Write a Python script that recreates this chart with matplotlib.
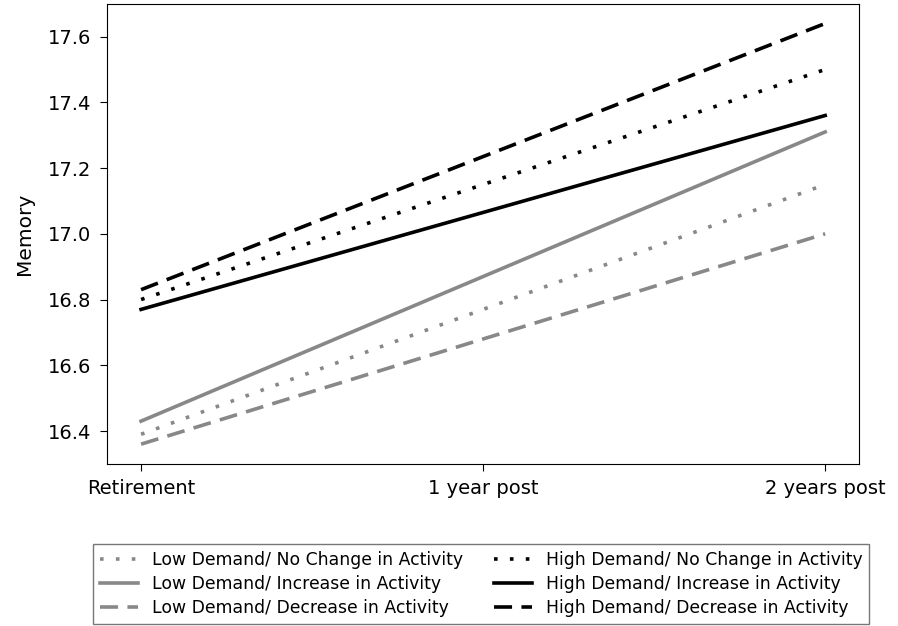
import matplotlib.pyplot as plt

timepoints = ["Retirement", "1 year post", "2 years post"]

# memory scores per group at each timepoint
low_no_change = [16.39, 16.77, 17.15]
low_increase = [16.43, 16.87, 17.31]
low_decrease = [16.36, 16.68, 17.00]
high_no_change = [16.80, 17.15, 17.50]
high_increase = [16.77, 17.065, 17.36]
high_decrease = [16.83, 17.235, 17.64]

grey = "#888888"
dotted = (0, (1, 3.4))
dashed = (0, (5, 2.6))
series = [
    ("Low Demand/ No Change in Activity", low_no_change, grey, dotted),
    ("Low Demand/ Increase in Activity", low_increase, grey, "-"),
    ("Low Demand/ Decrease in Activity", low_decrease, grey, dashed),
    ("High Demand/ No Change in Activity", high_no_change, "black", dotted),
    ("High Demand/ Increase in Activity", high_increase, "black", "-"),
    ("High Demand/ Decrease in Activity", high_decrease, "black", dashed),
]

fig = plt.figure(figsize=(8.98, 6.26), dpi=100)
ax = fig.add_axes([0.119, 0.259, 0.838, 0.735])

x = list(range(len(timepoints)))
for label, vals, color, ls in series:
    ax.plot(x, vals, color=color, linestyle=ls, linewidth=2.6, label=label)

ax.set_xticks(x)
ax.set_xticklabels(timepoints)
ax.set_xlim(-0.1, 2.1)
ax.set_ylim(16.3, 17.7)
ax.set_yticks([16.4, 16.6, 16.8, 17.0, 17.2, 17.4, 17.6])
ax.tick_params(labelsize=14, length=5, pad=6)
ax.set_ylabel("Memory", fontsize=14.5, labelpad=10)

fig.legend(loc="lower center", bbox_to_anchor=(0.536, 0.0), ncol=2,
           fontsize=12.4, fancybox=False, edgecolor="#555555",
           columnspacing=1.8, handlelength=2.2, borderpad=0.4,
           labelspacing=0.35, borderaxespad=0.1)

fig.savefig("out.png", dpi=100)
